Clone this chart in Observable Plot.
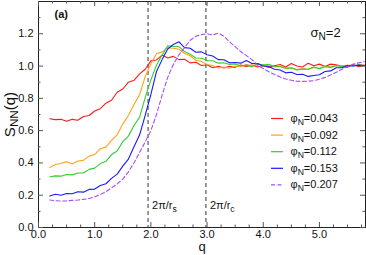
<!DOCTYPE html>
<html>
<head>
<meta charset="utf-8">
<script src="https://cdn.jsdelivr.net/npm/d3@7"></script>
<script src="https://cdn.jsdelivr.net/npm/@observablehq/plot@0.6"></script>
<style>
  html, body { margin: 0; padding: 0; background: #fff; }
  #chart svg { display: block; }
</style>
</head>
<body>
<div id="chart"></div>
<script>
// ---- data ----
const q = [0.2,0.3,0.4,0.5,0.6,0.7,0.8,0.9,1.0,1.1,1.2,1.3,1.4,1.5,1.6,1.7,1.8,1.9,2.0,2.1,2.2,2.3,2.4,2.5,2.6,2.7,2.8,2.9,3.0,3.1,3.2,3.3,3.4,3.5,3.6,3.7,3.8,3.9,4.0,4.1,4.2,4.3,4.4,4.5,4.6,4.7,4.8,4.9,5.0,5.1,5.2,5.3,5.4,5.5,5.6,5.7,5.8];
const s043 = [0.674,0.668,0.670,0.658,0.670,0.664,0.688,0.694,0.722,0.736,0.770,0.788,0.838,0.858,0.900,0.912,0.952,0.980,1.032,1.038,1.068,1.050,1.060,1.040,1.042,1.020,1.024,1.004,1.008,0.990,0.999,0.988,0.998,0.992,1.006,0.998,1.006,0.994,1.004,0.992,1.002,1.010,0.994,1.016,1.000,0.994,1.018,1.002,1.012,0.998,1.012,1.008,0.998,0.992,1.010,0.996,1.006];
const s092 = [0.372,0.390,0.396,0.408,0.394,0.412,0.416,0.442,0.452,0.488,0.498,0.540,0.574,0.642,0.694,0.762,0.824,0.936,1.014,1.076,1.088,1.114,1.110,1.104,1.078,1.064,1.036,1.028,1.010,1.004,0.988,0.994,0.986,1.000,0.996,1.010,1.002,1.014,1.000,1.012,0.996,0.999,0.986,0.990,0.978,0.984,0.980,0.992,0.986,1.000,0.994,1.004,1.000,1.006,1.002,1.008,1.004];
const s112 = [0.313,0.320,0.318,0.328,0.326,0.338,0.338,0.360,0.368,0.396,0.410,0.452,0.474,0.532,0.566,0.632,0.684,0.806,0.914,1.006,1.068,1.126,1.122,1.120,1.090,1.074,1.050,1.048,1.034,1.033,1.018,1.021,1.010,1.013,1.002,1.006,0.996,1.012,1.008,1.010,0.996,0.996,0.986,0.988,0.976,0.982,0.980,0.994,0.984,0.996,0.992,1.002,0.998,1.004,1.000,1.008,1.004];
const s153 = [0.195,0.206,0.200,0.211,0.209,0.221,0.219,0.236,0.238,0.260,0.271,0.304,0.331,0.380,0.424,0.500,0.574,0.696,0.824,0.966,1.040,1.106,1.134,1.150,1.114,1.110,1.086,1.088,1.070,1.062,1.040,1.039,1.020,1.022,1.018,1.034,1.016,1.016,1.000,0.998,0.980,0.976,0.958,0.962,0.948,0.949,0.936,0.942,0.946,0.966,0.970,0.990,0.990,1.004,1.000,1.006,1.004];
const s207 = [0.170,0.166,0.164,0.165,0.168,0.170,0.174,0.180,0.190,0.205,0.222,0.245,0.270,0.300,0.345,0.400,0.465,0.530,0.600,0.700,0.820,0.930,1.010,1.070,1.115,1.160,1.185,1.195,1.200,1.192,1.204,1.185,1.150,1.120,1.090,1.065,1.040,1.005,0.985,0.965,0.948,0.932,0.920,0.912,0.906,0.905,0.906,0.910,0.918,0.930,0.945,0.962,0.980,0.998,1.012,1.020,1.028];
const phiLabels = ["0.043","0.092","0.112","0.153","0.207"];
const colors = ["#ff1a1a","#ffa31a","#33cc33","#1a1aff","#a64dff"];
const dashes = [null,null,null,null,"4,2.5"];
const refQ = [1.95, 2.98];
const refLabels = ["2π/r~s~","2π/r~c~"];
const xTicks = [0,1,2,3,4,5];
const yTicks = [0,0.2,0.4,0.6,0.8,1.0,1.2];

// ---- layout ----
const W = 366, H = 255, mL = 38, mR = 1, mT = 1, mB = 28;
const fH = H - mT - mB, fW = W - mL - mR;
const xDomain = [0, 5.82], yDomain = [0, 1.4];
const xs = Plot.scale({x: {domain: xDomain, range: [mL, W - mR]}});
const ys = Plot.scale({y: {domain: yDomain, range: [H - mB, mT]}});

const series = [s043, s092, s112, s153, s207];
const tables = series.map((s, k) => q.map((qq, i) => ({q: qq, S: s[i], phi: phiLabels[k]})));

const xMinor = d3.range(0, 5.8, 0.25).filter(v => !xTicks.includes(v));
const yMinor = d3.range(0.1, 1.4, 0.2);
const fmt = d3.format(".1f");

// legend (inside the frame, lower right) positioned through the scales
const legX1 = xs.invert(271), legX2 = xs.invert(283), legXT = xs.invert(290);
const legY = phiLabels.map((p, i) => ys.invert(118 + i * 16.6));
const legendMarks = phiLabels.flatMap((p, i) => [
  Plot.ruleY([legY[i]], {x1: legX1, x2: legX2, stroke: colors[i], strokeWidth: 1.2, strokeDasharray: dashes[i] || undefined}),
  Plot.text(["φ~N~=" + p], {x: legXT, y: legY[i], textAnchor: "start", lineAnchor: "middle", fontSize: 11, fill: "#111"})
]);

const chart = Plot.plot({
  width: W, height: H,
  marginLeft: mL, marginRight: mR, marginTop: mT, marginBottom: mB,
  style: {fontFamily: "'Liberation Sans', Arial, sans-serif", fontSize: "11px", color: "#111", background: "#fff"},
  x: {domain: xDomain},
  y: {domain: yDomain},
  marks: [
    Plot.ruleX(refQ, {stroke: "#333", strokeDasharray: "4,3", strokeWidth: 1}),
    ...tables.map((t, k) => Plot.line(t, {x: "q", y: "S", stroke: colors[k], strokeWidth: 1.1, strokeDasharray: dashes[k] || undefined})),
    Plot.frame({stroke: "#222"}),
    // inward ticks, all four sides
    Plot.ruleX(xTicks, {stroke: "#555", insetTop: fH - 5}),
    Plot.ruleX(xMinor, {stroke: "#555", insetTop: fH - 2.5}),
    Plot.ruleX(xTicks, {stroke: "#555", insetBottom: fH - 5}),
    Plot.ruleX(xMinor, {stroke: "#555", insetBottom: fH - 2.5}),
    Plot.ruleY(yTicks, {stroke: "#555", insetRight: fW - 5}),
    Plot.ruleY(yMinor, {stroke: "#555", insetRight: fW - 2.5}),
    Plot.ruleY(yTicks, {stroke: "#555", insetLeft: fW - 5}),
    Plot.ruleY(yMinor, {stroke: "#555", insetLeft: fW - 2.5}),
    Plot.axisX({ticks: xTicks, tickFormat: fmt, tickSize: 0, tickPadding: 3, label: null}),
    Plot.axisY({ticks: yTicks, tickFormat: fmt, tickSize: 0, tickPadding: 5, label: null}),
    Plot.text(["q"], {frameAnchor: "bottom", dy: 19, textAnchor: "middle", lineAnchor: "middle", fontSize: 13}),
    Plot.text(["S~NN~(q)"], {frameAnchor: "left", dx: -28, rotate: -90, textAnchor: "middle", lineAnchor: "middle", fontSize: 15}),
    Plot.text(["(a)"], {frameAnchor: "top-left", dx: 16, dy: 13, textAnchor: "start", lineAnchor: "middle", fontWeight: "bold", fontSize: 11}),
    Plot.text(["σ~N~=2"], {frameAnchor: "top-left", dx: 272, dy: 31, textAnchor: "start", lineAnchor: "middle", fontSize: 13}),
    Plot.text(refLabels, {x: refQ, frameAnchor: "bottom", dy: -22, dx: 4, textAnchor: "start", lineAnchor: "middle", fontSize: 11}),
    ...legendMarks
  ]
});

// subscripts: text between ~ ~ becomes a lowered, smaller tspan
const NS = "http://www.w3.org/2000/svg";
chart.querySelectorAll("text").forEach(t => {
  const s = t.textContent;
  if (!s.includes("~")) return;
  t.textContent = "";
  s.split("~").forEach((part, i) => {
    if (!part) return;
    const ts = document.createElementNS(NS, "tspan");
    ts.textContent = part;
    if (i % 2 === 1) { ts.setAttribute("font-size", "0.78em"); ts.setAttribute("dy", "3"); }
    else if (i > 0) { ts.setAttribute("dy", "-3"); }
    t.appendChild(ts);
  });
});

document.getElementById("chart").appendChild(chart);
</script>
</body>
</html>
